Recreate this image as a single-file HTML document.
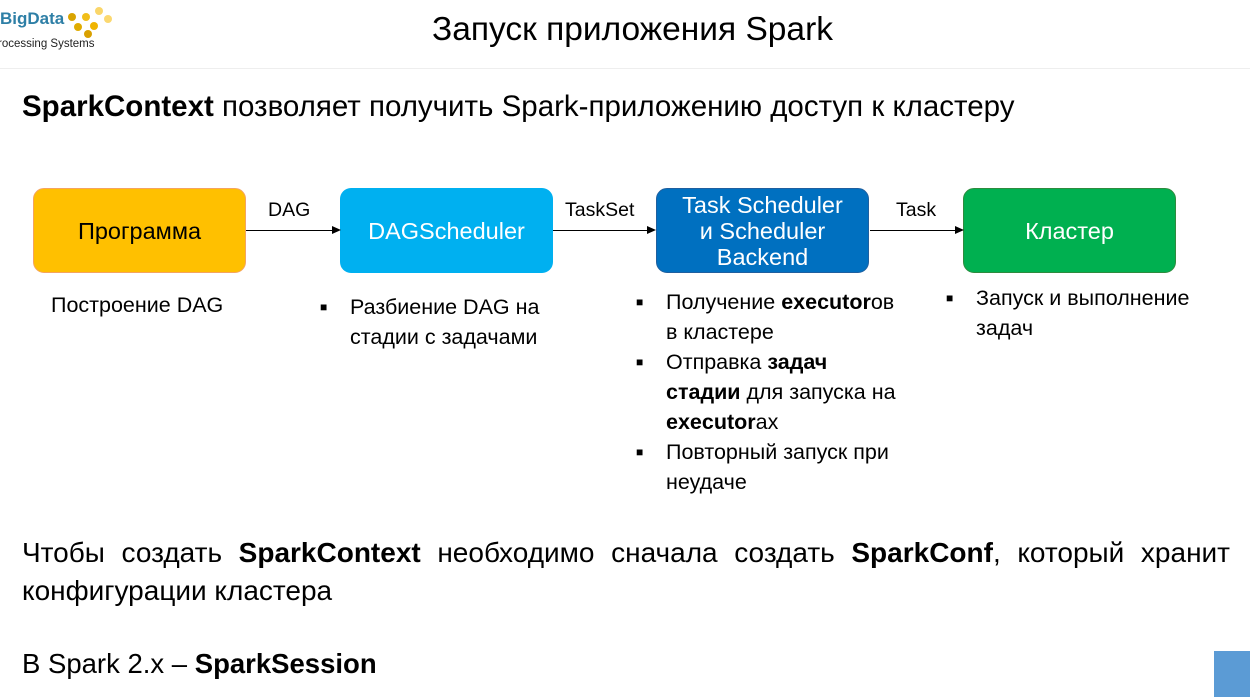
<!DOCTYPE html>
<html><head><meta charset="utf-8"><style>
body{margin:0;width:1250px;height:697px;background:#fff;position:relative;overflow:hidden;font-family:"Liberation Sans","DejaVu Sans",sans-serif;color:#000}
.a{position:absolute;white-space:nowrap}
.box{position:absolute;width:213px;height:85px;border-radius:11px;display:flex;align-items:center;justify-content:center;text-align:center;font-size:23.5px;line-height:26px;box-sizing:border-box}
.ln{position:absolute;height:1px;background:#000}
.ar{position:absolute;width:0;height:0;border-top:4px solid transparent;border-bottom:4px solid transparent;border-left:9px solid #000}
.b{font-size:21.5px;line-height:30px;position:absolute;white-space:nowrap}
.b .s{position:absolute;left:-30px;font-size:12px}
</style></head><body>
<div class="a" style="left:0;top:9px;font-size:17px;font-weight:bold;color:#2E7FA6">BigData</div>
<div class="a" style="left:-2px;top:38px;font-size:11.5px;color:#222">rocessing Systems</div>
<svg class="a" style="left:64px;top:4px" width="52" height="40">
<circle cx="8" cy="13" r="4" fill="#D9A400"/><circle cx="22" cy="13" r="4" fill="#F1BE1A"/><circle cx="35" cy="7" r="4" fill="#FAD66A"/>
<circle cx="14" cy="23" r="4" fill="#E0AC00"/><circle cx="30" cy="22" r="4" fill="#F0B400"/><circle cx="44" cy="15" r="4" fill="#FBD870"/><circle cx="24" cy="30" r="4" fill="#D9A000"/></svg>
<div style="position:absolute;left:0;top:68px;width:1250px;height:1px;background:#eee"></div>
<div class="a" style="left:432px;top:11px;font-size:33.5px">Запуск приложения Spark</div>
<div class="a" style="left:22px;top:90px;font-size:29.5px"><b>SparkContext</b> позволяет получить Spark-приложению доступ к кластеру</div>

<div class="box" style="left:33px;top:188px;background:#FFC000;border:1px solid #F4A460">Программа</div>
<div class="box" style="left:340px;top:188px;background:#00B0F0;color:#fff">DAGScheduler</div>
<div class="box" style="left:656px;top:188px;background:#0070C0;color:#fff;border:1px solid #1F5F9F">Task Scheduler<br>и Scheduler<br>Backend</div>
<div class="box" style="left:963px;top:188px;background:#00B050;color:#fff;border:1px solid #2E8B3E">Кластер</div>

<div class="ln" style="left:246px;top:230px;width:88px"></div><div class="ar" style="left:332px;top:226px"></div>
<div class="ln" style="left:553px;top:230px;width:97px"></div><div class="ar" style="left:647px;top:226px"></div>
<div class="ln" style="left:870px;top:230px;width:87px"></div><div class="ar" style="left:955px;top:226px"></div>
<div class="a" style="left:268px;top:199px;font-size:19.5px">DAG</div>
<div class="a" style="left:565px;top:199px;font-size:19.5px">TaskSet</div>
<div class="a" style="left:896px;top:199px;font-size:19.5px">Task</div>

<div class="b" style="left:51px;top:290px">Построение DAG</div>
<div class="b" style="left:350px;top:292px"><span class="s">■</span>Разбиение DAG на<br>стадии с задачами</div>
<div class="b" style="left:666px;top:287px"><span class="s">■</span>Получение <b>executor</b>ов<br>в кластере</div>
<div class="b" style="left:666px;top:347px"><span class="s">■</span>Отправка <b>задач<br>стадии</b> для запуска на<br><b>executor</b>ах</div>
<div class="b" style="left:666px;top:437px"><span class="s">■</span>Повторный запуск при<br>неудаче</div>
<div class="b" style="left:976px;top:283px"><span class="s">■</span>Запуск и выполнение<br>задач</div>

<div class="a" style="left:22px;top:534px;width:1208px;font-size:28px;line-height:38px;white-space:normal;text-align:justify;text-align-last:left">Чтобы создать <b>SparkContext</b> необходимо сначала создать <b>SparkConf</b>, который хранит конфигурации кластера</div>
<div class="a" style="left:22px;top:648px;font-size:27.5px">В Spark 2.x – <b>SparkSession</b></div>
<div style="position:absolute;left:1214px;top:651px;width:36px;height:46px;background:#5B9BD5"></div>
</body></html>
